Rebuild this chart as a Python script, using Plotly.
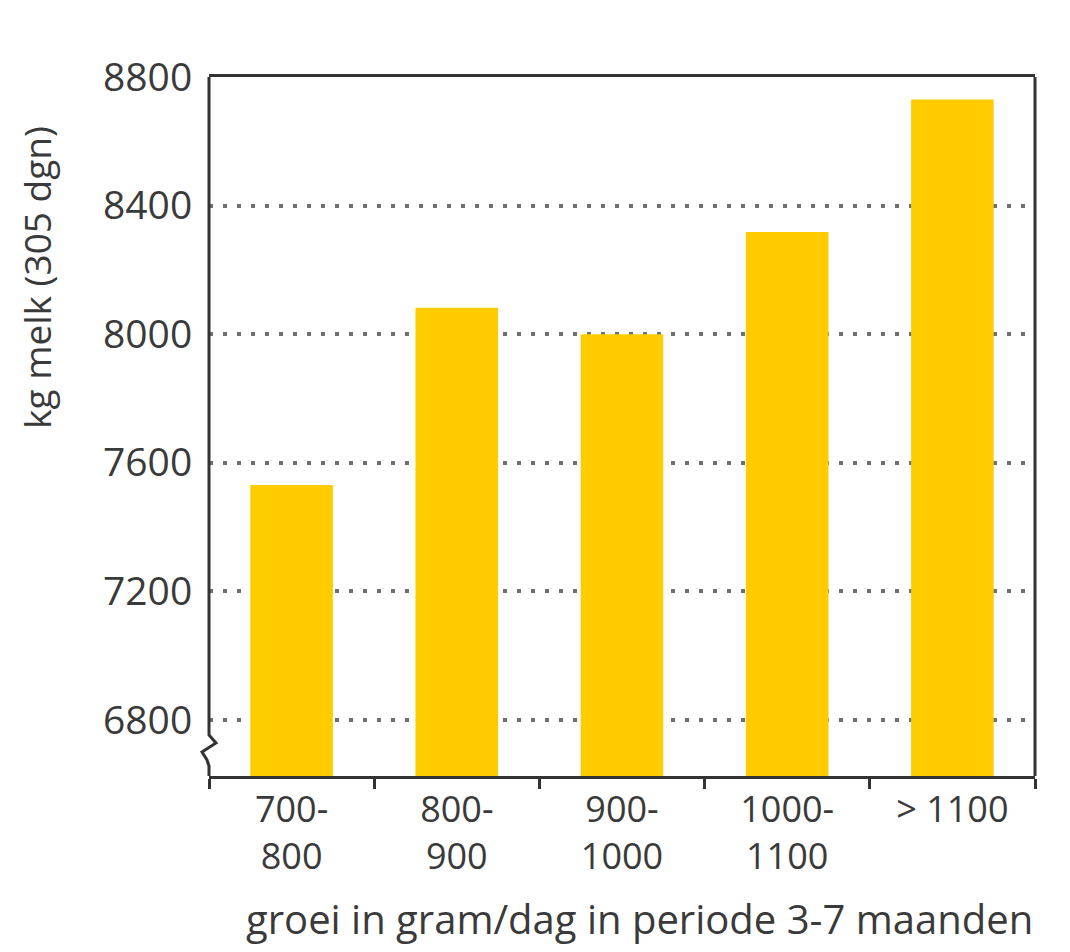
import plotly.graph_objects as go

categories = ["700-<br>800", "800-<br>900", "900-<br>1000", "1000-<br>1100", "> 1100"]
milk_kg = [7531, 8082, 8000, 8318, 8730]
y_ticks = [6800, 7200, 7600, 8000, 8400, 8800]
y_title = "kg melk (305 dgn)"
x_title = "groei in gram/dag in periode 3-7 maanden"

OFF = 8  # page body margin
W, H = 1070 - OFF, 952 - OFF
ML, MT = 209 - OFF, 77 - OFF
PW, PH = 826, 699
MR = W - ML - PW
MB = H - MT - PH

FONT = "Open Sans"
TXT = "#3a3a3a"
AX = "#333333"

fig = go.Figure(go.Bar(
    x=categories, y=milk_kg,
    marker=dict(color="#FFCC00", line=dict(width=0)),
    hoverinfo="skip",
))

def px(dx):
    return dx / PW

def ax_(x):
    return (x - 209) / PW

def py(yy):
    return (776 - yy) / PH

left_path = (f"M 0,1 L 0,{py(735)} L {px(7)},{py(743)} L {px(-7)},{py(752)} "
             f"L {px(-2)},{py(760)} L 0,{py(766)} L 0,0")

fig.update_layout(
    width=W, height=H,
    margin=dict(l=ML, r=MR, t=MT, b=MB, pad=0),
    paper_bgcolor="white", plot_bgcolor="white",
    showlegend=False,
    bargap=0.5,
    font=dict(family=FONT, color=TXT),
    xaxis=dict(
        type="category",
        showline=True, mirror=True, linecolor=AX, linewidth=3,
        ticks="outside", tickson="boundaries", ticklen=10, tickwidth=3, tickcolor=AX,
        tickfont=dict(size=36, color=TXT, family=FONT),
        showgrid=False, zeroline=False,
    ),
    yaxis=dict(
        range=[6626, 8800],
        tickvals=y_ticks,
        ticktext=[str(v) for v in y_ticks],
        showline=False,
        ticks="outside", ticklen=8, tickcolor="rgba(0,0,0,0)",
        tickfont=dict(size=39, color=TXT, family=FONT),
        showgrid=True, gridcolor="#707070", gridwidth=4, griddash="4px,10px",
        zeroline=False,
    ),
    shapes=[
        dict(type="path", xref="paper", yref="paper", path=left_path,
             line=dict(color=AX, width=3), layer="above"),
        dict(type="line", xref="paper", yref="paper", x0=1, x1=1, y0=0, y1=1,
             line=dict(color=AX, width=3), layer="above"),
    ],
    annotations=[
        dict(text=y_title, textangle=-90, xref="paper", yref="paper",
             x=ax_(36), y=py(278), xanchor="center", yanchor="middle",
             showarrow=False, font=dict(size=37, color=TXT, family=FONT)),
        dict(text=x_title, xref="paper", yref="paper",
             x=ax_(639), y=py(918), xanchor="center", yanchor="middle",
             showarrow=False, font=dict(size=40, color=TXT, family=FONT)),
    ],
)

fig.write_html("out.html")
